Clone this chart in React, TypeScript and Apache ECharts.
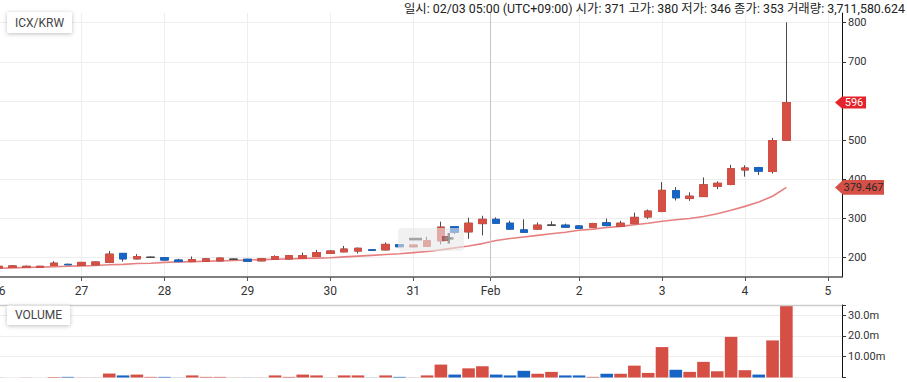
import React, { useEffect, useRef } from 'react';
import * as echarts from 'echarts';

// ---- data (4-hour candles starting 26 Jan 00:00) ----
const startHour = 0;
const stepHours = 4;
const opens = [174, 175, 175, 175, 180, 183, 181, 182, 188, 211, 197, 201, 200, 194, 190, 191, 192, 196, 196, 192, 196, 197, 198, 203, 211, 215, 217, 220, 220, 233, 228, 229, 243, 279, 266, 287, 298, 288, 271, 273, 283, 283, 281, 278, 289, 280, 287, 304, 318, 371, 351, 356, 382, 387, 424, 430, 420, 500];
const closes = [178, 179, 178, 178, 186, 182, 188, 189, 209, 197, 203, 201, 194, 190, 195, 197, 199, 196, 191, 197, 203, 205, 205, 213, 217, 222, 224, 219, 234, 228, 232, 243, 278, 265, 288, 298, 288, 273, 265, 283, 283, 278, 275, 287, 282, 288, 303, 319, 372, 353, 357, 386, 390, 427, 429, 421, 499, 596];
const lows = [172, 174, 174, 175, 179, 181, 180, 181, 186, 190, 196, 199, 193, 189, 189, 190, 191, 195, 190, 191, 195, 196, 197, 202, 210, 214, 211, 218, 219, 227, 227, 228, 234, 260, 248, 257, 287, 271, 264, 271, 282, 277, 274, 277, 280, 278, 286, 299, 316, 346, 345, 355, 375, 385, 407, 411, 415, 498];
const highs = [179, 181, 180, 179, 191, 185, 189, 190, 217, 212, 209, 203, 200, 197, 203, 199, 200, 198, 197, 199, 206, 207, 213, 220, 219, 230, 226, 221, 239, 234, 233, 253, 292, 280, 302, 307, 303, 294, 298, 290, 293, 287, 283, 289, 300, 294, 315, 323, 393, 380, 367, 405, 395, 437, 436, 432, 506, 801];
const volumesM = [0.05, 0.05, 0.05, 0.05, 0.3, 0.3, 0.05, 0.05, 1.9, 1.0, 1.4, 0.3, 0.3, 0.05, 1.0, 0.3, 0.3, 0.05, 0.05, 0.05, 1.0, 0.3, 1.4, 1.0, 0.05, 1.0, 1.0, 0.05, 1.0, 0.3, 0.05, 1.0, 6.2, 1.4, 4.4, 5.4, 1.4, 1.0, 3.2, 1.8, 2.7, 1.0, 1.0, 0.3, 1.8, 1.8, 5.7, 2.2, 14.6, 3.71, 2.7, 7.5, 3.0, 19.5, 3.5, 1.4, 17.8, 36.0];
const maValues = [173, 174, 175, 176, 177, 178, 179, 180, 182, 183, 185, 186, 188, 189, 190, 191, 192, 193, 194, 195, 196, 197, 198, 199, 200, 202, 204, 206, 208, 210, 213, 216, 220, 225, 230, 236, 244, 249, 253, 257, 261, 265, 270, 273, 277, 280, 284, 288, 293, 297, 300, 305, 312, 321, 331, 342, 357, 379.467];

const dayTickHours = [0, 24, 48, 72, 96, 120, 142.4, 168, 192, 216, 240];
const dayTickLabels = ['26', '27', '28', '29', '30', '31', 'Feb', '2', '3', '4', '5'];
const priceTicks = [200, 300, 400, 500, 600, 700, 800];
const volumeTickValuesM = [10, 20, 30];
const volumeTickLabels = ['10.00m', '20.0m', '30.0m'];
const crosshairHour = 142.4;

const headerText = '일시: 02/03 05:00 (UTC+09:00) 시가: 371 고가: 380 저가: 346 종가: 353 거래량: 3,711,580.624';
const symbolName = 'ICX/KRW';
const volumeTitle = 'VOLUME';

const UP = '#d64f45';
const DOWN = '#1664c6';
const WICK = '#4a4a4a';
const FONT = 'Roboto, "Noto Sans CJK KR", sans-serif';

const X_MIN = 0;
const X_MAX = 244.1;

export default function App() {
  const ref = useRef<HTMLDivElement>(null);

  useEffect(() => {
    if (!ref.current) return;
    const chart = echarts.init(ref.current, null, { renderer: 'svg' });
    const hours = opens.map((_, i) => startHour + i * stepHours);
    const full = hours.map((h, i) => [h, opens[i], closes[i], lows[i], highs[i]]);
    const bodies = hours.map((h, i) => [h, opens[i], closes[i], Math.min(opens[i], closes[i]), Math.max(opens[i], closes[i])]);
    const vol = hours.map((h, i) => ({
      value: [h, volumesM[i] * 1e6],
      itemStyle: { color: closes[i] >= opens[i] ? UP : DOWN },
    }));
    const ma = hours.map((h, i) => [h, maValues[i]]);
    const last = closes.length - 1;

    const option: any = {
      animation: false,
      textStyle: { fontFamily: FONT },
      grid: [
        { left: -1.3, right: 65, top: 13, height: 264, outerBoundsMode: 'none', containLabel: false },
        { left: -1.3, right: 65, top: 305, height: 72.5, outerBoundsMode: 'none', containLabel: false },
      ],
      xAxis: [
        {
          type: 'value', gridIndex: 0, min: X_MIN, max: X_MAX,
          axisLine: { show: true, onZero: false, lineStyle: { color: '#555', width: 1.5 } },
          axisTick: { show: true, customValues: dayTickHours, length: 4, lineStyle: { color: '#555' } },
          axisLabel: {
            customValues: dayTickHours, color: '#333', fontSize: 12, margin: 8, fontFamily: FONT,
            formatter: (v: number) => {
              const idx = dayTickHours.findIndex((t) => Math.abs(t - v) < 0.01);
              return idx >= 0 ? dayTickLabels[idx] : '';
            },
          },
          splitLine: { show: true, lineStyle: { color: '#eeeeee' } },
        },
        { type: 'value', gridIndex: 1, min: X_MIN, max: X_MAX, show: false, axisLine: { onZero: false }, splitLine: { show: false } },
      ],
      yAxis: [
        {
          type: 'value', gridIndex: 0, position: 'right', min: 150.7, max: 824.8,
          axisLine: { show: true, onZero: false, lineStyle: { color: '#111' } },
          axisTick: { show: true, customValues: priceTicks, length: 4, lineStyle: { color: '#333' } },
          axisLabel: { customValues: priceTicks, color: '#333', fontSize: 11, margin: 6, fontFamily: FONT },
          splitLine: { show: true, lineStyle: { color: '#eeeeee' } },
        },
        {
          type: 'value', gridIndex: 1, position: 'right', min: 0, max: 34.8e6, interval: 10e6,
          axisLine: { show: true, onZero: false, lineStyle: { color: '#111' } },
          axisTick: { show: true, length: 4, lineStyle: { color: '#333' } },
          axisLabel: {
            color: '#333', fontSize: 11, margin: 6, fontFamily: FONT,
            formatter: (v: number) => {
              const idx = volumeTickValuesM.findIndex((t) => Math.abs(t * 1e6 - v) < 1);
              return idx >= 0 ? volumeTickLabels[idx] : '';
            },
          },
          splitLine: { show: true, lineStyle: { color: '#eeeeee' } },
        },
      ],
      series: [
        {
          type: 'line', xAxisIndex: 0, yAxisIndex: 0, data: ma, symbol: 'none', z: 1,
          lineStyle: { color: '#e26a6a', width: 1.6, opacity: 0.85 },
          markLine: {
            silent: true, symbol: ['none', 'none'], label: { show: false },
            lineStyle: { color: '#c4c4c4', type: 'solid', width: 1 },
            data: [{ xAxis: crosshairHour }],
          },
          markPoint: {
            silent: true, z: 20,
            data: [{
              coord: [X_MAX, maValues[last]], value: maValues[last],
              symbol: 'path://M0,7.3L8,0L49,0L49,14.6L8,14.6Z', symbolSize: [49, 14.6], symbolOffset: [17.5, 0],
              itemStyle: { color: '#d65048' },
              label: { show: true, position: 'inside', offset: [4, 0], color: '#2a2a2a', fontSize: 11, fontFamily: FONT, formatter: () => maValues[last].toFixed(3) },
            }],
          },
        },
        {
          type: 'candlestick', xAxisIndex: 0, yAxisIndex: 0, data: full, barWidth: 8, z: 2,
          itemStyle: { color: UP, color0: DOWN, borderColor: WICK, borderColor0: WICK, borderColorDoji: WICK, borderWidth: 1 },
        },
        {
          type: 'candlestick', xAxisIndex: 0, yAxisIndex: 0, data: bodies, barWidth: 8, z: 3,
          itemStyle: { color: UP, color0: DOWN, borderColor: UP, borderColor0: DOWN, borderColorDoji: WICK, borderWidth: 1 },
          markPoint: {
            silent: true, z: 20,
            data: [{
              coord: [X_MAX, closes[last]], value: closes[last],
              symbol: 'path://M0,6L7,0L31,0L31,12L7,12Z', symbolSize: [31, 12], symbolOffset: [8.5, 0],
              itemStyle: { color: '#e5232b' },
              label: { show: true, position: 'inside', offset: [3.5, 0], color: '#fff', fontSize: 11, fontFamily: FONT, formatter: () => String(closes[last]) },
            }],
          },
        },
        {
          type: 'bar', xAxisIndex: 1, yAxisIndex: 1, data: vol, barWidth: 12.6,
        },
      ],
      graphic: [
        {
          type: 'text', x: 905, y: 8, z: 100,
          style: { text: headerText, align: 'right', verticalAlign: 'middle', font: `12.4px ${FONT}`, fill: '#222' },
        },
        {
          type: 'rect', z: 100, shape: { x: 7, y: 12, width: 65, height: 21, r: 1 },
          style: { fill: '#fff', shadowBlur: 4, shadowColor: 'rgba(0,0,0,0.25)', shadowOffsetY: 1 },
        },
        {
          type: 'text', z: 101, x: 39.5, y: 23,
          style: { text: symbolName, align: 'center', verticalAlign: 'middle', font: `12px ${FONT}`, fill: '#444' },
        },
        {
          type: 'rect', z: 50, shape: { x: 0, y: 304.8, width: 842, height: 1.5 },
          style: { fill: '#cccccc' },
        },
        {
          type: 'rect', z: 100, shape: { x: 7, y: 305.5, width: 63, height: 19.5, r: 1 },
          style: { fill: '#fff', shadowBlur: 4, shadowColor: 'rgba(0,0,0,0.25)', shadowOffsetY: 1 },
        },
        {
          type: 'text', z: 101, x: 38.5, y: 315,
          style: { text: volumeTitle, align: 'center', verticalAlign: 'middle', font: `12px ${FONT}`, fill: '#444' },
        },
        {
          type: 'rect', z: 90, shape: { x: 398, y: 228, width: 66, height: 23, r: 4 },
          style: { fill: 'rgba(232,232,232,0.6)' },
        },
        { type: 'rect', z: 91, shape: { x: 409, y: 237.8, width: 13, height: 2.6 }, style: { fill: 'rgba(150,150,150,0.85)' } },
        { type: 'rect', z: 91, shape: { x: 442, y: 236, width: 6, height: 5 }, style: { fill: 'rgba(160,60,60,0.75)' } },
        { type: 'rect', z: 92, shape: { x: 444, y: 237.2, width: 9.5, height: 2.4 }, style: { fill: 'rgba(140,140,140,0.8)' } },
        { type: 'rect', z: 92, shape: { x: 447.6, y: 233, width: 2.4, height: 10.5 }, style: { fill: 'rgba(140,140,140,0.8)' } },
      ],
    };
    chart.setOption(option);

    return () => chart.dispose();
  }, []);

  return <div ref={ref} style={{ position: 'absolute', left: 0, top: 0, width: 907, height: 382 }} />;
}
